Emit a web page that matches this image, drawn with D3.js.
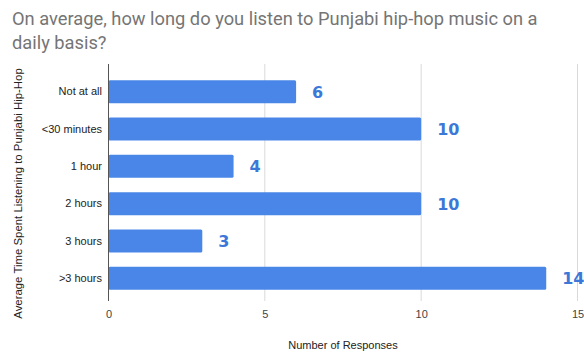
<!DOCTYPE html>
<html><head><meta charset="utf-8">
<script src="https://cdn.jsdelivr.net/npm/d3@7"></script>
<style>body{margin:0;background:#fff;} svg{display:block;}</style>
</head><body>
<script>
const categories = ["Not at all", "<30 minutes", "1 hour", "2 hours", "3 hours", ">3 hours"];
const values = [6, 10, 4, 10, 3, 14];
const xTicks = [0, 5, 10, 15];
const titleLines = ["On average, how long do you listen to Punjabi hip-hop music on a", "daily basis?"];
const xTitle = "Number of Responses";
const yTitle = "Average Time Spent Listening to Punjabi Hip-Hop";

const W = 584, H = 354;
const svg = d3.select("body").append("svg").attr("width", W).attr("height", H);
svg.append("rect").attr("width", W).attr("height", H).attr("fill", "#fff");

const x = d3.scaleLinear().domain([0, 15]).range([108.5, 577.5]);
const y = d3.scaleBand().domain(categories).range([73, 297]).paddingInner(0.385).paddingOuter(0.1925);

// title
svg.append("g").selectAll("text").data(titleLines).join("text")
  .attr("x", 12).attr("y", (d, i) => 25 + i * 24)
  .attr("font-family", "Roboto, sans-serif").attr("font-size", 18.3)
  .attr("fill", "#757575").text(d => d);

// gridlines
svg.append("g").selectAll("line").data(xTicks.filter(t => t > 0)).join("line")
  .attr("x1", d => x(d)).attr("x2", d => x(d)).attr("y1", 64).attr("y2", 301)
  .attr("stroke", "#d9d9d9").attr("stroke-width", 1);

// bars
svg.append("g").selectAll("rect").data(categories).join("rect")
  .attr("x", x(0)).attr("y", d => y(d))
  .attr("width", (d, i) => x(values[i]) - x(0)).attr("height", y.bandwidth())
  .attr("rx", 1.5).attr("fill", "#4a86e8");

// baseline axis
svg.append("line").attr("x1", x(0)).attr("x2", x(0)).attr("y1", 64).attr("y2", 301)
  .attr("stroke", "#555").attr("stroke-width", 1);

// value labels
svg.append("g").selectAll("text").data(categories).join("text")
  .attr("x", (d, i) => x(values[i]) + 16).attr("y", d => y(d) + y.bandwidth() / 2 + 6)
  .attr("font-family", "DejaVu Sans, sans-serif").attr("font-size", 16).attr("font-weight", "bold")
  .attr("fill", "#3c78d8").text((d, i) => values[i]);

// x axis
const xAxis = d3.axisBottom(x).tickValues(xTicks).tickSize(0).tickPadding(0).tickFormat(d3.format("d"));
const gx = svg.append("g").attr("transform", "translate(0,310)").call(xAxis);
gx.select(".domain").remove();
gx.selectAll("text").attr("font-family", "Arial, Liberation Sans, sans-serif").attr("font-size", 11).attr("fill", "#444").attr("dy", "0.75em");

// y axis labels
const yAxis = d3.axisLeft(y).tickSize(0).tickPadding(0);
const gy = svg.append("g").attr("transform", "translate(102,0)").call(yAxis);
gy.select(".domain").remove();
gy.selectAll("text").attr("font-family", "Arial, Liberation Sans, sans-serif").attr("font-size", 11).attr("fill", "#222");

// axis titles
svg.append("text").attr("x", 343).attr("y", 349).attr("text-anchor", "middle")
  .attr("font-family", "Arial, Liberation Sans, sans-serif").attr("font-size", 11).attr("fill", "#222").text(xTitle);
svg.append("text").attr("transform", "translate(22,193.5) rotate(-90)").attr("text-anchor", "middle")
  .attr("font-family", "Arial, Liberation Sans, sans-serif").attr("font-size", 11.4).attr("fill", "#222").text(yTitle);
</script>
</body></html>
